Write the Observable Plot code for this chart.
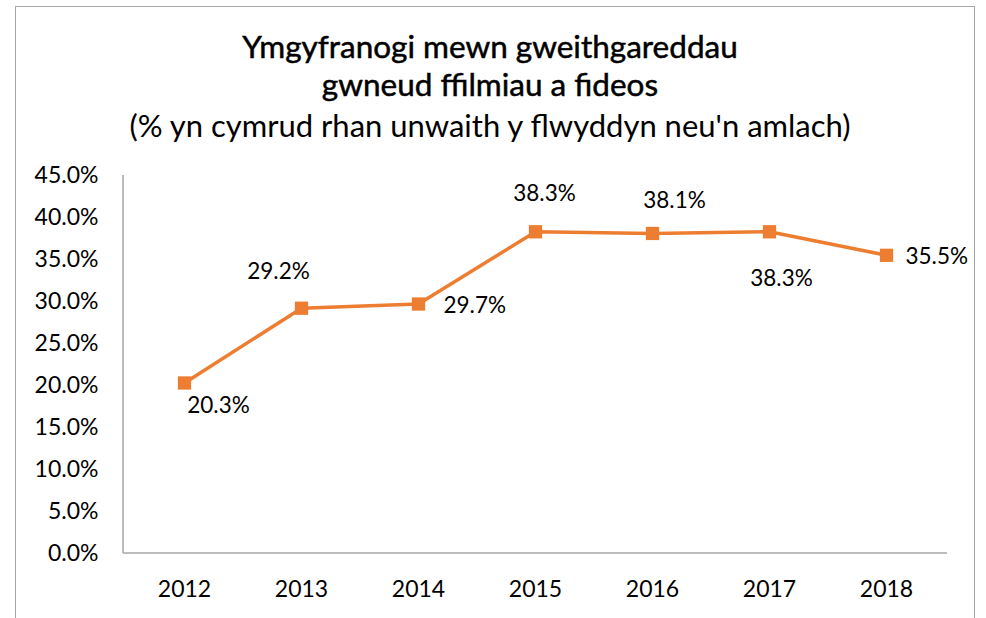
<!DOCTYPE html>
<html>
<head>
<meta charset="utf-8">
<script src="https://cdn.jsdelivr.net/npm/d3@7"></script>
<script src="https://cdn.jsdelivr.net/npm/@observablehq/plot@0.6"></script>
<style>
  html, body { margin: 0; padding: 0; background: #fff; }
  #wrap { position: relative; width: 986px; height: 618px; overflow: hidden; background: #fff; }
  #frame { position: absolute; left: 15px; top: 6px; width: 960px; height: 640px; border: 1.5px solid #a6a6a6; box-sizing: border-box; }
  .t { position: absolute; left: 0; width: 980px; text-align: center; font-family: Lato, "Open Sans", sans-serif; color: #000; white-space: nowrap; }
  #t1 { top: 27px; font-size: 31.5px; -webkit-text-stroke: 0.5px #000; }
  #t2 { top: 65px; font-size: 31.5px; -webkit-text-stroke: 0.5px #000; }
  #t3 { top: 106px; font-size: 31px; }
  #chart { position: absolute; left: 0; top: 0; }
</style>
</head>
<body>
<div id="wrap">
  <div id="frame"></div>
  <div class="t" id="t1">Ymgyfranogi mewn gweithgareddau</div>
  <div class="t" id="t2">gwneud ffilmiau a fideos</div>
  <div class="t" id="t3">(% yn cymrud rhan unwaith y flwyddyn neu'n amlach)</div>
  <div id="chart"></div>
</div>
<script>
const years = ["2012", "2013", "2014", "2015", "2016", "2017", "2018"];
const values = [0.203, 0.292, 0.297, 0.383, 0.381, 0.383, 0.355];
const yTicks = [0, 0.05, 0.10, 0.15, 0.20, 0.25, 0.30, 0.35, 0.40, 0.45];

const data = years.map((year, i) => ({year, value: values[i]}));

// label placement (style, not data)
const labelStyle = {
  "2012": {dx: 34, dy: 23, textAnchor: "middle"},
  "2013": {dx: -23, dy: -36, textAnchor: "middle"},
  "2014": {dx: 25, dy: 2, textAnchor: "start"},
  "2015": {dx: 9, dy: -38, textAnchor: "middle"},
  "2016": {dx: 22, dy: -33, textAnchor: "middle"},
  "2017": {dx: 12, dy: 47, textAnchor: "middle"},
  "2018": {dx: 19, dy: 1, textAnchor: "start"}
};

const ORANGE = "#ED7D31";
const AXIS = "#a6a6a6";
const FONT = "Lato, 'Open Sans', sans-serif";

const labelMarks = years.map(y => Plot.text(data.filter(d => d.year === y), {
  x: "year", y: "value",
  text: d => d3.format(".1%")(d.value),
  fontSize: 22.5, fill: "#000", fontFamily: FONT,
  ...labelStyle[y]
}));

const axisLines = (index, scales, values, dimensions) => {
  const {marginLeft, marginTop, marginBottom, width, height, marginRight} = dimensions;
  const g = d3.create("svg:g");
  g.append("line")
    .attr("x1", marginLeft).attr("x2", marginLeft)
    .attr("y1", marginTop).attr("y2", height - marginBottom)
    .attr("stroke", AXIS).attr("stroke-width", 1.5);
  g.append("line")
    .attr("x1", marginLeft).attr("x2", width - marginRight)
    .attr("y1", height - marginBottom).attr("y2", height - marginBottom)
    .attr("stroke", AXIS).attr("stroke-width", 1.5);
  return g.node();
};

const chart = Plot.plot({
  width: 986,
  height: 618,
  marginLeft: 123,
  marginRight: 39,
  marginTop: 175,
  marginBottom: 65,
  style: {fontFamily: FONT, background: "transparent", overflow: "visible"},
  x: {type: "point", domain: years, padding: 0.5},
  y: {domain: [0, 0.45]},
  marks: [
    axisLines,
    Plot.axisY({ticks: yTicks, tickFormat: d3.format(".1%"), tickSize: 0, tickPadding: 25, fontSize: 23, fill: "#000", label: null}),
    Plot.axisX({tickSize: 0, tickPadding: 27, fontSize: 23, fill: "#000", label: null}),
    Plot.line(data, {x: "year", y: "value", stroke: ORANGE, strokeWidth: 3.5}),
    Plot.dot(data, {x: "year", y: "value", symbol: "square", r: 7.5, fill: ORANGE, stroke: null}),
    ...labelMarks
  ]
});
document.getElementById("chart").appendChild(chart);
</script>
</body>
</html>
